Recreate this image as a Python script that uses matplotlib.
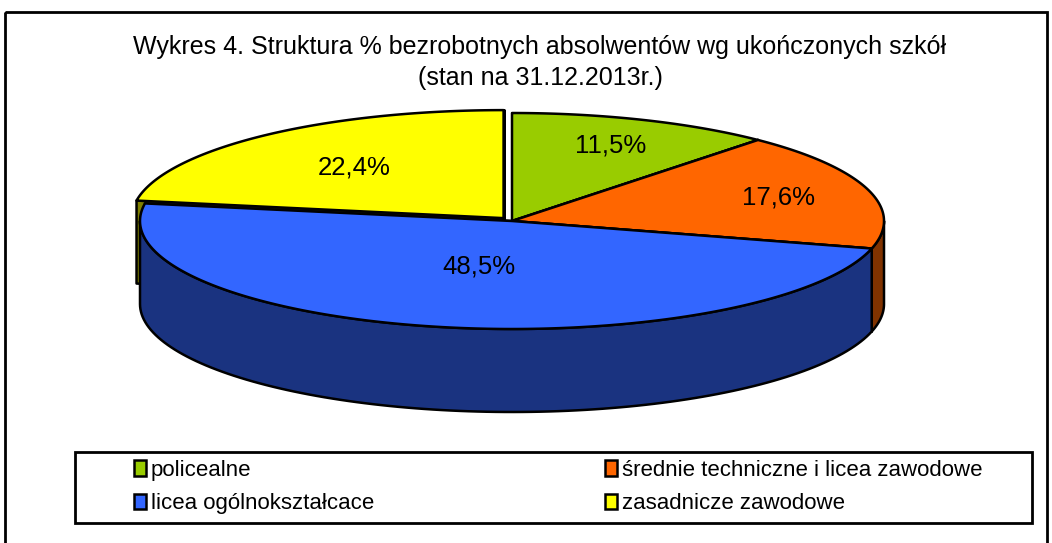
import numpy as np
import matplotlib
matplotlib.use("Agg")
import matplotlib.pyplot as plt
from matplotlib.patches import Polygon, Rectangle, Patch

plt.rcParams['font.family'] = ['Liberation Sans', 'DejaVu Sans']

# data
categories = ["policealne", "średnie techniczne i licea zawodowe",
              "licea ogólnokształcace", "zasadnicze zawodowe"]
shares = [11.5, 17.6, 48.5, 22.4]
labels = ["11,5%", "17,6%", "48,5%", "22,4%"]

# styling / layout
top_colors = ["#99CC00", "#FF6600", "#3366FF", "#FFFF00"]
side_colors = ["#4D6600", "#803300", "#1A3380", "#808000"]
explode = [0.0, 0.0, 0.0, 0.035]
label_r = [0.75, 0.75, 0.43, 0.62]
draw_order = [0, 3, 1, 2]

W, H = 1052, 543
CX, CY, RX, RY, DEPTH = 512, 221, 372, 108, 83


def pt(theta, r=1.0, ox=0.0, oy=0.0, dz=0.0):
    # theta in degrees, clockwise from 12 o'clock, pixel coords (y down)
    t = np.radians(theta)
    return CX + ox + r * RX * np.sin(t), CY + oy - r * RY * np.cos(t) + dz


fig = plt.figure(figsize=(W / 100, H / 100), dpi=100)
ax = fig.add_axes([0, 0, 1, 1])
ax.set_xlim(0, W)
ax.set_ylim(H, 0)
ax.axis("off")

# outer frame
ax.add_patch(Rectangle((5, 12), 1042, 540, fill=False, lw=2, ec="black"))

fracs = np.array(shares) / sum(shares)
starts = np.concatenate([[0], np.cumsum(fracs)[:-1]]) * 360
ends = starts + fracs * 360

for i in draw_order:
    a, b = starts[i], ends[i]
    mid = (a + b) / 2
    ox = explode[i] * RX * np.sin(np.radians(mid))
    oy = -explode[i] * RY * np.cos(np.radians(mid))
    kw = dict(ec="black", lw=1.8, joinstyle="round")

    # radial cut faces
    for ang in (a, b):
        c0 = pt(ang, 0, ox, oy)
        c1 = pt(ang, 1, ox, oy)
        face = [c0, c1, (c1[0], c1[1] + DEPTH), (c0[0], c0[1] + DEPTH)]
        ax.add_patch(Polygon(face, closed=True, fc=side_colors[i], **kw))

    # outer front wall
    lo, hi = max(a, 90), min(b, 270)
    if lo < hi:
        th = np.linspace(lo, hi, 120)
        top = [pt(t, 1, ox, oy) for t in th]
        bot = [pt(t, 1, ox, oy, DEPTH) for t in th[::-1]]
        ax.add_patch(Polygon(top + bot, closed=True, fc=side_colors[i], **kw))

    # top face
    th = np.linspace(a, b, 200)
    poly = [pt(0, 0, ox, oy)] + [pt(t, 1, ox, oy) for t in th]
    ax.add_patch(Polygon(poly, closed=True, fc=top_colors[i], **kw))

    lx, ly = pt(mid, label_r[i], ox, oy)
    ax.text(lx, ly, labels[i], fontsize=18.5, ha="center", va="center")

# title
ax.text(540, 47, "Wykres 4. Struktura % bezrobotnych absolwentów wg ukończonych szkół",
        fontsize=18, ha="center", va="center")
ax.text(540, 78, "(stan na 31.12.2013r.)", fontsize=18, ha="center", va="center")

# legend frame + entries
ax.add_patch(Rectangle((75, 452), 957, 71, fill=False, lw=2, ec="black"))
handles = [Patch(fc=top_colors[k], ec="black", lw=1.8) for k in (0, 2, 1, 3)]
names = [categories[k] for k in (0, 2, 1, 3)]
leg = ax.legend(handles, names, ncol=2, loc="center",
                bbox_to_anchor=(558 / W, 1 - 487 / H),
                fontsize=16, frameon=False,
                handlelength=0.55, handleheight=0.7,
                handletextpad=0.2, labelspacing=0.55, columnspacing=10.4,
                borderaxespad=0)

fig.savefig("out.png", dpi=100)
